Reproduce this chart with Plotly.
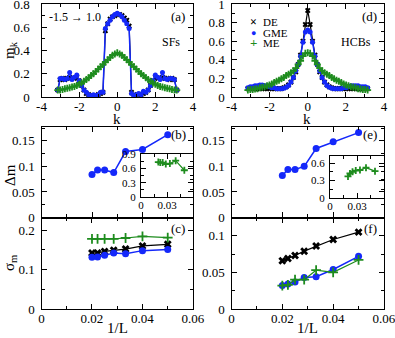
import plotly.graph_objects as go

# momentum grid (2*pi*n/50), shared by both m_k panels
k = [-3.142, -3.016, -2.890, -2.765, -2.639, -2.513, -2.388, -2.262, -2.136, -2.011,
     -1.885, -1.759, -1.634, -1.508, -1.382, -1.257, -1.131, -1.005, -0.880, -0.754,
     -0.628, -0.503, -0.377, -0.251, -0.126, 0.0, 0.126, 0.251, 0.377, 0.503,
     0.628, 0.754, 0.880, 1.005, 1.131, 1.257, 1.382, 1.508, 1.634, 1.759,
     1.885, 2.011, 2.136, 2.262, 2.388, 2.513, 2.639, 2.765, 2.890, 3.016,
     3.142]

# panel (a) SFs
mk_sf_de = [0.06, 0.15, 0.16, 0.15, 0.16, 0.17, 0.16, 0.16, 0.17, 0.14,
            0.10, 0.06, 0.03, 0.02, 0.01, 0.01, 0.01, 0.02, 0.03, 0.04,
            0.57, 0.63, 0.67, 0.69, 0.70, 0.71, 0.71, 0.70, 0.68, 0.66,
            0.61, 0.04, 0.02, 0.01, 0.02, 0.02, 0.03, 0.04, 0.06, 0.10,
            0.14, 0.17, 0.16, 0.16, 0.17, 0.16, 0.16, 0.15, 0.16, 0.15,
            0.06]
mk_sf_gme = [0.06, 0.16, 0.16, 0.15, 0.16, 0.21, 0.15, 0.17, 0.19, 0.14,
             0.10, 0.06, 0.04, 0.02, 0.01, 0.02, 0.01, 0.02, 0.04, 0.04,
             0.59, 0.63, 0.66, 0.69, 0.71, 0.72, 0.71, 0.69, 0.66, 0.63,
             0.59, 0.03, 0.01, 0.02, 0.03, 0.02, 0.05, 0.04, 0.06, 0.10,
             0.14, 0.19, 0.17, 0.15, 0.21, 0.16, 0.15, 0.16, 0.16, 0.15,
             0.06]
mk_sf_me = [0.06, 0.06, 0.065, 0.07, 0.075, 0.08, 0.085, 0.09, 0.10, 0.11,
            0.12, 0.135, 0.15, 0.165, 0.185, 0.20, 0.22, 0.24, 0.26, 0.28,
            0.30, 0.32, 0.34, 0.36, 0.37, 0.38, 0.37, 0.36, 0.34, 0.32,
            0.30, 0.28, 0.26, 0.24, 0.22, 0.20, 0.185, 0.165, 0.15, 0.135,
            0.12, 0.11, 0.10, 0.09, 0.085, 0.08, 0.075, 0.07, 0.065, 0.06,
            0.06]

# panel (d) HCBs
mk_hcb_de = [0.09, 0.09, 0.09, 0.09, 0.09, 0.09, 0.09, 0.09, 0.09, 0.09,
             0.09, 0.09, 0.09, 0.09, 0.09, 0.10, 0.11, 0.13, 0.16, 0.21,
             0.27, 0.35, 0.45, 0.60, 0.78, 0.93, 0.78, 0.60, 0.45, 0.35,
             0.27, 0.21, 0.16, 0.13, 0.11, 0.10, 0.09, 0.09, 0.09, 0.09,
             0.09, 0.09, 0.09, 0.09, 0.09, 0.09, 0.09, 0.09, 0.09, 0.09,
             0.09]
mk_hcb_gme = [0.10, 0.11, 0.11, 0.12, 0.12, 0.13, 0.13, 0.12, 0.12, 0.11,
              0.10, 0.10, 0.09, 0.09, 0.09, 0.095, 0.105, 0.125, 0.16, 0.21,
              0.28, 0.35, 0.44, 0.59, 0.70, 0.72, 0.70, 0.59, 0.44, 0.35,
              0.28, 0.21, 0.16, 0.125, 0.105, 0.095, 0.09, 0.09, 0.09, 0.09,
              0.10, 0.10, 0.11, 0.12, 0.12, 0.12, 0.12, 0.11, 0.11, 0.11,
              0.10]
mk_hcb_me = [0.075, 0.08, 0.08, 0.085, 0.09, 0.10, 0.105, 0.11, 0.12, 0.13,
             0.14, 0.155, 0.17, 0.18, 0.195, 0.21, 0.23, 0.245, 0.26, 0.28,
             0.31, 0.35, 0.39, 0.44, 0.47, 0.475, 0.47, 0.44, 0.39, 0.35,
             0.31, 0.28, 0.26, 0.245, 0.23, 0.21, 0.195, 0.18, 0.17, 0.155,
             0.14, 0.13, 0.12, 0.11, 0.105, 0.10, 0.09, 0.085, 0.08, 0.08,
             0.075]

# finite size data
inv_L = [0.02, 0.0222, 0.025, 0.0286, 0.0333, 0.04, 0.05]
dm_sf = [0.084, 0.093, 0.093, 0.088, 0.129, 0.133, 0.162]
dm_sf_me = [0.73, 0.72, 0.72, 0.69, 0.70, 0.76, 0.56]
dm_hcb = [0.082, 0.094, 0.094, 0.100, 0.135, 0.148, 0.166]
dm_hcb_me = [0.37, 0.42, 0.45, 0.47, 0.48, 0.52, 0.46]
sig_sf_de = [0.142, 0.142, 0.146, 0.149, 0.152, 0.160, 0.164]
sig_sf_gme = [0.131, 0.132, 0.136, 0.142, 0.140, 0.148, 0.151]
sig_sf_me = [0.178, 0.178, 0.178, 0.178, 0.180, 0.184, 0.181]
sig_hcb_de = [0.066, 0.069, 0.073, 0.079, 0.086, 0.095, 0.105]
sig_hcb_gme = [0.032, 0.034, 0.037, 0.043, 0.044, 0.054, 0.072]
sig_hcb_me = [0.032, 0.033, 0.040, 0.040, 0.053, 0.050, 0.067]

k_ticks = [-4, -2, 0, 2, 4]
k_ticktext = ["-4", "-2", "0", "2", "4"]

W, H = 395, 338
FONT = "Liberation Serif, Times New Roman, serif"
BLUE = "rgb(20,40,250)"
GREEN = "rgb(30,140,30)"
BLACK = "black"


def px(x):
    return x / W


def py(y):
    return 1 - y / H


def axis(rng, dom, dtick, minor, labels=True, size=13, standoff=3, **kw):
    d = dict(range=rng, domain=dom, showline=True, mirror="allticks",
             linecolor="black", linewidth=1.3, ticks="inside", ticklen=5,
             tickcolor="black", tickwidth=1, tick0=0, dtick=dtick,
             minor=dict(ticks="inside", ticklen=3, tick0=0, dtick=minor, tickcolor="black"),
             showgrid=False, zeroline=False, showticklabels=labels,
             ticklabelstandoff=standoff, ticklabeloverflow="allow", automargin=False,
             tickfont=dict(family=FONT, size=size, color="black"))
    d.update(kw)
    return d


fig = go.Figure()


def add_set(xs, de, gme, me, xa, ya, small=True):
    s = 4 if small else 6
    if de is not None:
        fig.add_trace(go.Scatter(x=xs, y=de, xaxis=xa, yaxis=ya, mode="lines+markers",
                                 line=dict(color=BLACK, width=1.2),
                                 marker=dict(symbol="x", size=s + 1, color=BLACK)))
    if gme is not None:
        fig.add_trace(go.Scatter(x=xs, y=gme, xaxis=xa, yaxis=ya, mode="lines+markers",
                                 line=dict(color=BLUE, width=1.5),
                                 marker=dict(symbol="circle", size=s + 1, color=BLUE)))
    if me is not None:
        fig.add_trace(go.Scatter(x=xs, y=me, xaxis=xa, yaxis=ya, mode="lines+markers",
                                 line=dict(color=GREEN, width=1.2),
                                 marker=dict(symbol="cross-thin", size=s + 1,
                                             line=dict(color=GREEN, width=1.8))))


add_set(k, mk_sf_de, mk_sf_gme, mk_sf_me, "x", "y")
add_set(k, mk_hcb_de, mk_hcb_gme, mk_hcb_me, "x2", "y2")
add_set(inv_L, None, dm_sf, None, "x3", "y3", small=False)
add_set(inv_L, None, dm_hcb, None, "x4", "y4", small=False)
add_set(inv_L, sig_sf_de, sig_sf_gme, sig_sf_me, "x5", "y5", small=False)
add_set(inv_L, sig_hcb_de, sig_hcb_gme, sig_hcb_me, "x6", "y6", small=False)
add_set(inv_L, None, None, dm_sf_me, "x7", "y7")
add_set(inv_L, None, None, dm_hcb_me, "x8", "y8")

LX = [px(41.5), px(193)]
RX = [px(231.5), px(384)]
TOP = [py(97), py(4)]
MID = [py(217.5), py(127)]
BOT = [py(309), py(217.5)]

fig.update_layout(
    width=W, height=H, margin=dict(l=0, r=0, t=0, b=0),
    paper_bgcolor="white", plot_bgcolor="rgba(0,0,0,0)", showlegend=False,
    xaxis=axis([-4, 4], LX, None, 1, anchor="y", tickvals=k_ticks, ticktext=k_ticktext, standoff=-3),
    yaxis=axis([0, 0.8001], TOP, 0.2, 0.1, anchor="x", standoff=8),
    xaxis2=axis([-4, 4], RX, None, 1, anchor="y2", tickvals=k_ticks, ticktext=k_ticktext, standoff=-3),
    yaxis2=axis([0, 1.0001], TOP, 0.2, 0.1, anchor="x2"),
    xaxis3=axis([0, 0.06], LX, 0.02, 0.01, labels=False, anchor="y3"),
    yaxis3=axis([0, 0.177], MID, 0.05, 0.025, anchor="x3"),
    xaxis4=axis([0, 0.06], RX, 0.02, 0.01, labels=False, anchor="y4"),
    yaxis4=axis([0, 0.177], MID, 0.05, 0.025, anchor="x4"),
    xaxis5=axis([0, 0.06001], LX, 0.02, 0.01, anchor="y5", standoff=-3),
    yaxis5=axis([0, 0.232], BOT, 0.1, 0.05, anchor="x5"),
    xaxis6=axis([0, 0.06001], RX, 0.02, 0.01, anchor="y6", standoff=-3),
    yaxis6=axis([0, 0.125], BOT, 0.05, 0.025, anchor="x6"),
    xaxis7=axis([0, 0.06], [px(141), px(193)], 0.03, 0.015, anchor="y7", size=11, standoff=-2,
                tickvals=[0, 0.03]),
    yaxis7=axis([0, 0.9], [py(197), py(154)], 0.3, 0.15, anchor="x7", size=11, standoff=2),
    xaxis8=axis([0, 0.06], [px(330), px(384)], 0.03, 0.015, anchor="y8", size=11, standoff=-2,
                tickvals=[0, 0.03]),
    yaxis8=axis([0, 0.72], [py(198), py(156)], 0.3, 0.15, anchor="x8", size=11, standoff=2),
)


def note(text, x, y, size=13, color="black", angle=0, xanchor="center"):
    fig.add_annotation(text=text, x=px(x), y=py(y), xref="paper", yref="paper",
                       showarrow=False, textangle=angle, xanchor=xanchor, yanchor="middle",
                       font=dict(family=FONT, size=size, color=color))


# axis titles
note("m<sub>k</sub>", 10, 50, size=15, angle=-90)
note("k", 117, 119, size=15)
note("k", 307, 119, size=15)
note("Δm", 10, 175, size=15, angle=-90)
note("σ<sub>m</sub>", 10, 263, size=15, angle=-90)
note("1/L", 117, 328, size=15)
note("1/L", 307, 328, size=15)

# panel labels
note("(a)", 178, 16)
note("(d)", 369, 16)
note("(b)", 178, 135)
note("(e)", 370, 135)
note("(c)", 178, 228)
note("(f)", 370, 228)
note("-1.5 → 1.0", 47, 17, size=12, xanchor="left")
note("SFs", 171, 42, size=12)
note("HCBs", 356, 42, size=12)

# legend of panel (d)
note("<b>×</b>", 253, 22, size=12)
note("●", 253, 32.5, size=9, color=BLUE)
note("<b>+</b>", 253, 43, size=13, color=GREEN)
note("DE", 261, 22, size=11, xanchor="left")
note("GME", 261, 32.5, size=11, xanchor="left")
note("ME", 261, 43, size=11, xanchor="left")

# drop the default page margin so the figure sits at the window origin
fig.write_html("out.html", config={"displayModeBar": False},
               post_script="document.body.style.margin='0';")
